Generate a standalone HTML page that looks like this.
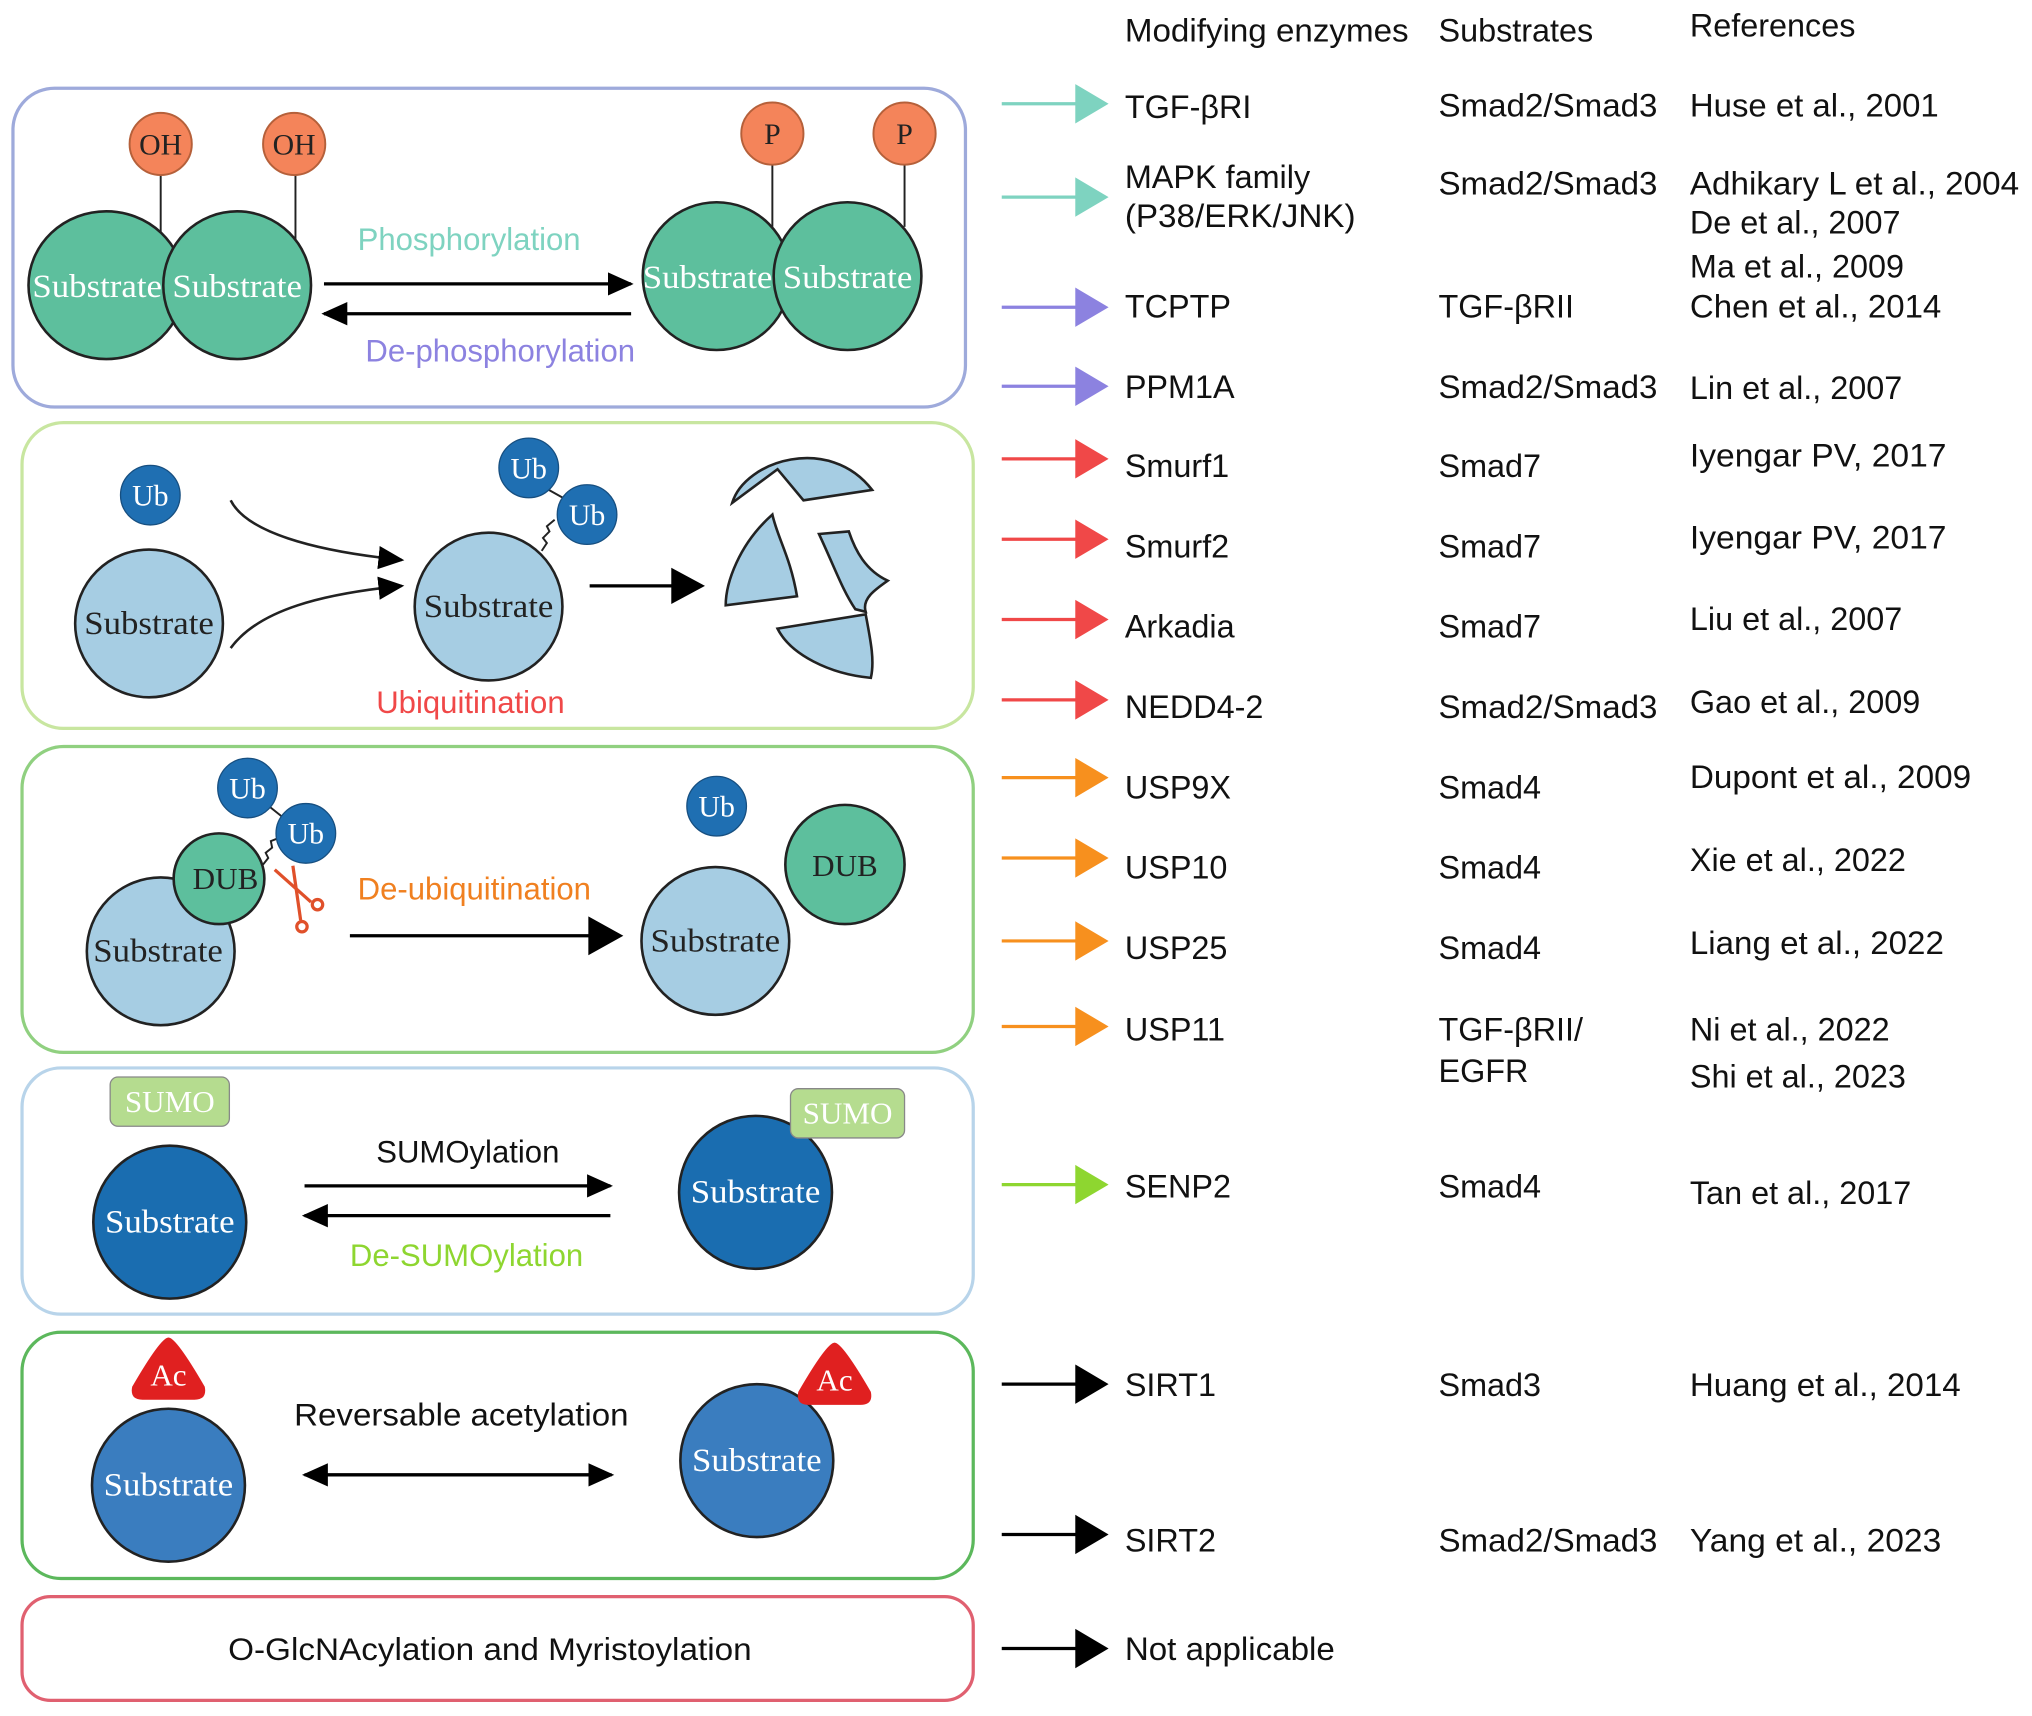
<!DOCTYPE html>
<html><head><meta charset="utf-8"><style>
html,body{margin:0;padding:0;background:#fff;}
svg{display:block;}
.s{font-family:"Liberation Sans",Arial,sans-serif;}
.r{font-family:"Liberation Serif","Times New Roman",serif;}
</style></head><body>
<svg width="2032" height="1716" viewBox="0 0 1568 1324" xmlns="http://www.w3.org/2000/svg">
<defs>
<marker id="ah" markerWidth="20" markerHeight="20" refX="18" refY="9" orient="auto" markerUnits="userSpaceOnUse" viewBox="0 0 20 18"><path d="M0,0 L20,9 L0,18z" fill="#000"/></marker>
</defs>
<g class="s" font-size="25" fill="#111">
<text x="868" y="32" textLength="219" lengthAdjust="spacingAndGlyphs">Modifying enzymes</text>
<text x="1110" y="32">Substrates</text>
<text x="1304" y="28">References</text>
</g>

<!-- Box 1 -->
<rect x="10" y="68" width="735" height="246" rx="32" fill="none" stroke="#9eaadb" stroke-width="2.5"/>
<g stroke="#222" stroke-width="1.5">
<line x1="124" y1="130" x2="124" y2="185"/><line x1="228" y1="130" x2="228" y2="185"/>
<line x1="596" y1="120" x2="596" y2="175"/><line x1="698" y1="120" x2="698" y2="175"/>
</g>
<g stroke="#222" stroke-width="2" fill="#5dbf9d">
<ellipse cx="82" cy="220" rx="60" ry="57"/><ellipse cx="183" cy="220" rx="57" ry="57"/>
<ellipse cx="553" cy="213" rx="57" ry="57"/><ellipse cx="654" cy="213" rx="57" ry="57"/>
</g>
<g stroke="#b5603a" stroke-width="1.5" fill="#f4845a">
<ellipse cx="124" cy="111" rx="24" ry="24"/><ellipse cx="227" cy="111" rx="24" ry="24"/>
<ellipse cx="596" cy="103" rx="24" ry="24"/><ellipse cx="698" cy="103" rx="24" ry="24"/>
</g>
<g class="r" font-size="23" fill="#222" text-anchor="middle">
<text x="124" y="119">OH</text><text x="227" y="119">OH</text>
<text x="596" y="111">P</text><text x="698" y="111">P</text>
</g>
<g class="r" font-size="25" fill="#fff" text-anchor="middle">
<text x="75" y="229" textLength="100" lengthAdjust="spacingAndGlyphs">Substrate</text><text x="183" y="229" textLength="100" lengthAdjust="spacingAndGlyphs">Substrate</text>
<text x="546" y="222" textLength="100" lengthAdjust="spacingAndGlyphs">Substrate</text><text x="654" y="222" textLength="100" lengthAdjust="spacingAndGlyphs">Substrate</text>
</g>
<line x1="250" y1="219" x2="487" y2="219" stroke="#000" stroke-width="2.5" marker-end="url(#ah)"/>
<line x1="487" y1="242" x2="250" y2="242" stroke="#000" stroke-width="2.5" marker-end="url(#ah)"/>
<text class="s" x="362" y="193" font-size="24" fill="#7ed3c0" text-anchor="middle">Phosphorylation</text>
<text class="s" x="386" y="279" font-size="24" fill="#8c82e0" text-anchor="middle">De-phosphorylation</text>

<!-- Box 2 -->
<rect x="17" y="326" width="734" height="236" rx="32" fill="none" stroke="#c8e6a0" stroke-width="2.5"/>
<circle cx="116" cy="382" r="23" fill="#1f6fb2" stroke="#174f80" stroke-width="1"/>
<text class="r" x="116" y="390" font-size="23" fill="#fff" text-anchor="middle">Ub</text>
<circle cx="115" cy="481" r="57" fill="#a6cde3" stroke="#222" stroke-width="2"/>
<text class="r" x="115" y="489" font-size="25" fill="#222" text-anchor="middle" textLength="100" lengthAdjust="spacingAndGlyphs">Substrate</text>
<path d="M178,386 C190,410 240,425 310,432" fill="none" stroke="#222" stroke-width="2" marker-end="url(#ah)"/>
<path d="M178,500 C200,470 250,458 310,452" fill="none" stroke="#222" stroke-width="2" marker-end="url(#ah)"/>
<circle cx="377" cy="468" r="57" fill="#a6cde3" stroke="#222" stroke-width="2"/>
<text class="r" x="377" y="476" font-size="25" fill="#222" text-anchor="middle" textLength="100" lengthAdjust="spacingAndGlyphs">Substrate</text>
<path d="M418,425 l4,-6 l-3,-4 l5,-5 l-2,-4 l6,-5" fill="none" stroke="#222" stroke-width="1.5"/>
<line x1="420" y1="376" x2="445" y2="390" stroke="#222" stroke-width="1.5"/>
<circle cx="408" cy="361" r="23" fill="#1f6fb2" stroke="#174f80"/>
<circle cx="453" cy="397" r="23" fill="#1f6fb2" stroke="#174f80"/>
<text class="r" x="408" y="369" font-size="23" fill="#fff" text-anchor="middle">Ub</text>
<text class="r" x="453" y="405" font-size="23" fill="#fff" text-anchor="middle">Ub</text>
<line x1="455" y1="452" x2="525" y2="452" stroke="#000" stroke-width="2.5"/>
<path d="M518,438 L544,452 L518,466z" fill="#000"/>
<g fill="#a6cde3" stroke="#222" stroke-width="2">
<path d="M565,388 C575,355 640,335 673,378 L620,386 L600,362 Z"/>
<path d="M596,397 C570,420 560,450 560,467 L615,460 C610,430 600,415 596,397 Z"/>
<path d="M632,412 L655,410 C660,425 668,440 685,448 C675,455 665,462 668,472 L660,470 C650,455 645,440 632,412 Z"/>
<path d="M600,485 L668,474 C672,495 675,510 672,523 C640,520 610,505 600,485 Z"/>
</g>
<text class="s" x="363" y="550" font-size="24" fill="#f04848" text-anchor="middle">Ubiquitination</text>

<!-- Box 3 -->
<rect x="17" y="576" width="734" height="236" rx="32" fill="none" stroke="#90d080" stroke-width="2.5"/>
<circle cx="124" cy="734" r="57" fill="#a6cde3" stroke="#222" stroke-width="2"/>
<text class="r" x="122" y="742" font-size="25" fill="#222" text-anchor="middle" textLength="100" lengthAdjust="spacingAndGlyphs">Substrate</text>
<circle cx="169" cy="678" r="35" fill="#5dbf9d" stroke="#222" stroke-width="2"/>
<text class="r" x="174" y="686" font-size="24" fill="#222" text-anchor="middle">DUB</text>
<path d="M203,667 l4,-5 l-2,-4 l5,-4 l-1,-5 l5,-2" fill="none" stroke="#222" stroke-width="1.5"/>
<line x1="200" y1="616" x2="230" y2="640" stroke="#222" stroke-width="1.5"/>
<circle cx="191" cy="608" r="23" fill="#1f6fb2" stroke="#174f80"/>
<circle cx="236" cy="643" r="23" fill="#1f6fb2" stroke="#174f80"/>
<text class="r" x="191" y="616" font-size="23" fill="#fff" text-anchor="middle">Ub</text>
<text class="r" x="236" y="651" font-size="23" fill="#fff" text-anchor="middle">Ub</text>
<g stroke="#e0502a" stroke-width="2.5" fill="none">
<line x1="212" y1="671" x2="240" y2="696"/><line x1="226" y1="668" x2="232" y2="710"/>
<circle cx="245" cy="698" r="4"/><circle cx="233" cy="715" r="4"/>
</g>
<text class="s" x="366" y="694" font-size="24" fill="#f08020" text-anchor="middle">De-ubiquitination</text>
<line x1="270" y1="722" x2="460" y2="722" stroke="#000" stroke-width="2.5"/>
<path d="M454,707 L481,722 L454,737z" fill="#000"/>
<circle cx="553" cy="622" r="23" fill="#1f6fb2" stroke="#174f80"/>
<text class="r" x="553" y="630" font-size="23" fill="#fff" text-anchor="middle">Ub</text>
<circle cx="652" cy="667" r="46" fill="#5dbf9d" stroke="#222" stroke-width="2"/>
<text class="r" x="652" y="676" font-size="24" fill="#222" text-anchor="middle">DUB</text>
<circle cx="552" cy="726" r="57" fill="#a6cde3" stroke="#222" stroke-width="2"/>
<text class="r" x="552" y="734" font-size="25" fill="#222" text-anchor="middle" textLength="100" lengthAdjust="spacingAndGlyphs">Substrate</text>

<!-- Box 4 -->
<rect x="17" y="824" width="734" height="190" rx="30" fill="none" stroke="#b8d4ea" stroke-width="2.5"/>
<rect x="85" y="831" width="92" height="38" rx="6" fill="#b5dc8f" stroke="#888" stroke-width="1"/>
<text class="r" x="131" y="858" font-size="24" fill="#fff" text-anchor="middle">SUMO</text>
<circle cx="131" cy="943" r="59" fill="#1a6db0" stroke="#222" stroke-width="2"/>
<text class="r" x="131" y="951" font-size="25" fill="#fff" text-anchor="middle" textLength="100" lengthAdjust="spacingAndGlyphs">Substrate</text>
<circle cx="583" cy="920" r="59" fill="#1a6db0" stroke="#222" stroke-width="2"/>
<text class="r" x="583" y="928" font-size="25" fill="#fff" text-anchor="middle" textLength="100" lengthAdjust="spacingAndGlyphs">Substrate</text>
<rect x="610" y="840" width="88" height="38" rx="6" fill="#b5dc8f" stroke="#888" stroke-width="1"/>
<text class="r" x="654" y="867" font-size="24" fill="#fff" text-anchor="middle">SUMO</text>
<line x1="235" y1="915" x2="471" y2="915" stroke="#000" stroke-width="2.5" marker-end="url(#ah)"/>
<line x1="471" y1="938" x2="235" y2="938" stroke="#000" stroke-width="2.5" marker-end="url(#ah)"/>
<text class="s" x="361" y="897" font-size="24" fill="#111" text-anchor="middle">SUMOylation</text>
<text class="s" x="360" y="977" font-size="24" fill="#8ed630" text-anchor="middle">De-SUMOylation</text>

<!-- Box 5 -->
<rect x="17" y="1028" width="734" height="190" rx="30" fill="none" stroke="#5cb85c" stroke-width="2.5"/>
<circle cx="130" cy="1146" r="59" fill="#3a7dbf" stroke="#222" stroke-width="2"/>
<text class="r" x="130" y="1154" font-size="25" fill="#fff" text-anchor="middle" textLength="100" lengthAdjust="spacingAndGlyphs">Substrate</text>
<path d="M130,1032 Q136,1032 158,1070 Q160,1080 150,1080 L110,1080 Q100,1080 102,1070 Q124,1032 130,1032z" fill="#e02020"/>
<text class="r" x="130" y="1069" font-size="24" fill="#fff" text-anchor="middle">Ac</text>
<circle cx="584" cy="1127" r="59" fill="#3a7dbf" stroke="#222" stroke-width="2"/>
<text class="r" x="584" y="1135" font-size="25" fill="#fff" text-anchor="middle" textLength="100" lengthAdjust="spacingAndGlyphs">Substrate</text>
<path d="M644,1036 Q650,1036 672,1074 Q674,1084 664,1084 L624,1084 Q614,1084 616,1074 Q638,1036 644,1036z" fill="#e02020"/>
<text class="r" x="644" y="1073" font-size="24" fill="#fff" text-anchor="middle">Ac</text>
<text class="s" x="356" y="1100" font-size="24" fill="#111" text-anchor="middle" textLength="258" lengthAdjust="spacingAndGlyphs">Reversable acetylation</text>
<line x1="250" y1="1138" x2="472" y2="1138" stroke="#000" stroke-width="2.5" marker-end="url(#ah)"/>
<line x1="460" y1="1138" x2="235" y2="1138" stroke="#000" stroke-width="2.5" marker-end="url(#ah)"/>

<!-- Box 6 -->
<rect x="17" y="1232" width="734" height="80" rx="22" fill="none" stroke="#e06070" stroke-width="2.5"/>
<text class="s" x="378" y="1281" font-size="24" fill="#111" text-anchor="middle" textLength="404" lengthAdjust="spacingAndGlyphs">O-GlcNAcylation and Myristoylation</text>

<!-- right arrows -->
<g stroke-width="2.5">
<g stroke="#7ed3c0" fill="#7ed3c0"><line x1="773" y1="80" x2="835" y2="80"/><path d="M831,67 L853,80 L831,93z"/>
<line x1="773" y1="152" x2="835" y2="152"/><path d="M831,139 L853,152 L831,165z"/></g>
<g stroke="#8c82e0" fill="#8c82e0"><line x1="773" y1="237" x2="835" y2="237"/><path d="M831,224 L853,237 L831,250z"/>
<line x1="773" y1="298" x2="835" y2="298"/><path d="M831,285 L853,298 L831,311z"/></g>
<g stroke="#f04848" fill="#f04848"><line x1="773" y1="354" x2="835" y2="354"/><path d="M831,341 L853,354 L831,367z"/>
<line x1="773" y1="416" x2="835" y2="416"/><path d="M831,403 L853,416 L831,429z"/>
<line x1="773" y1="478" x2="835" y2="478"/><path d="M831,465 L853,478 L831,491z"/>
<line x1="773" y1="540" x2="835" y2="540"/><path d="M831,527 L853,540 L831,553z"/></g>
<g stroke="#f7901e" fill="#f7901e"><line x1="773" y1="600" x2="835" y2="600"/><path d="M831,587 L853,600 L831,613z"/>
<line x1="773" y1="662" x2="835" y2="662"/><path d="M831,649 L853,662 L831,675z"/>
<line x1="773" y1="726" x2="835" y2="726"/><path d="M831,713 L853,726 L831,739z"/>
<line x1="773" y1="792" x2="835" y2="792"/><path d="M831,779 L853,792 L831,805z"/></g>
<g stroke="#8ed630" fill="#8ed630"><line x1="773" y1="914" x2="835" y2="914"/><path d="M831,901 L853,914 L831,927z"/></g>
<g stroke="#000" fill="#000"><line x1="773" y1="1068" x2="835" y2="1068"/><path d="M831,1055 L853,1068 L831,1081z"/>
<line x1="773" y1="1184" x2="835" y2="1184"/><path d="M831,1171 L853,1184 L831,1197z"/>
<line x1="773" y1="1272" x2="835" y2="1272"/><path d="M831,1259 L853,1272 L831,1285z"/></g>
</g>

<g class="s" font-size="25" fill="#111">
<text x="868" y="91">TGF-βRI</text><text x="1110" y="90" textLength="169" lengthAdjust="spacingAndGlyphs">Smad2/Smad3</text><text x="1304" y="90" textLength="192" lengthAdjust="spacingAndGlyphs">Huse et al., 2001</text>
<text x="868" y="145">MAPK family</text><text x="868" y="175" textLength="178" lengthAdjust="spacingAndGlyphs">(P38/ERK/JNK)</text><text x="1110" y="150" textLength="169" lengthAdjust="spacingAndGlyphs">Smad2/Smad3</text>
<text x="1304" y="150" textLength="254" lengthAdjust="spacingAndGlyphs">Adhikary L et al., 2004</text><text x="1304" y="180">De et al., 2007</text><text x="1304" y="214">Ma et al., 2009</text>
<text x="868" y="245">TCPTP</text><text x="1110" y="245">TGF-βRII</text><text x="1304" y="245" textLength="194" lengthAdjust="spacingAndGlyphs">Chen et al., 2014</text>
<text x="868" y="307">PPM1A</text><text x="1110" y="307" textLength="169" lengthAdjust="spacingAndGlyphs">Smad2/Smad3</text><text x="1304" y="308">Lin et al., 2007</text>
<text x="868" y="368">Smurf1</text><text x="1110" y="368">Smad7</text><text x="1304" y="360" textLength="198" lengthAdjust="spacingAndGlyphs">Iyengar PV, 2017</text>
<text x="868" y="430">Smurf2</text><text x="1110" y="430">Smad7</text><text x="1304" y="423" textLength="198" lengthAdjust="spacingAndGlyphs">Iyengar PV, 2017</text>
<text x="868" y="492">Arkadia</text><text x="1110" y="492">Smad7</text><text x="1304" y="486">Liu et al., 2007</text>
<text x="868" y="554">NEDD4-2</text><text x="1110" y="554" textLength="169" lengthAdjust="spacingAndGlyphs">Smad2/Smad3</text><text x="1304" y="550">Gao et al., 2009</text>
<text x="868" y="616">USP9X</text><text x="1110" y="616">Smad4</text><text x="1304" y="608" textLength="217" lengthAdjust="spacingAndGlyphs">Dupont et al., 2009</text>
<text x="868" y="678">USP10</text><text x="1110" y="678">Smad4</text><text x="1304" y="672">Xie et al., 2022</text>
<text x="868" y="740">USP25</text><text x="1110" y="740">Smad4</text><text x="1304" y="736" textLength="196" lengthAdjust="spacingAndGlyphs">Liang et al., 2022</text>
<text x="868" y="803">USP11</text><text x="1110" y="803">TGF-βRII/</text><text x="1110" y="835">EGFR</text>
<text x="1304" y="803">Ni et al., 2022</text><text x="1304" y="839">Shi et al., 2023</text>
<text x="868" y="924">SENP2</text><text x="1110" y="924">Smad4</text><text x="1304" y="929">Tan et al., 2017</text>
<text x="868" y="1077">SIRT1</text><text x="1110" y="1077">Smad3</text><text x="1304" y="1077" textLength="209" lengthAdjust="spacingAndGlyphs">Huang et al., 2014</text>
<text x="868" y="1197">SIRT2</text><text x="1110" y="1197" textLength="169" lengthAdjust="spacingAndGlyphs">Smad2/Smad3</text><text x="1304" y="1197" textLength="194" lengthAdjust="spacingAndGlyphs">Yang et al., 2023</text>
<text x="868" y="1281" textLength="162" lengthAdjust="spacingAndGlyphs">Not applicable</text>
</g>
</svg>
</body></html>
